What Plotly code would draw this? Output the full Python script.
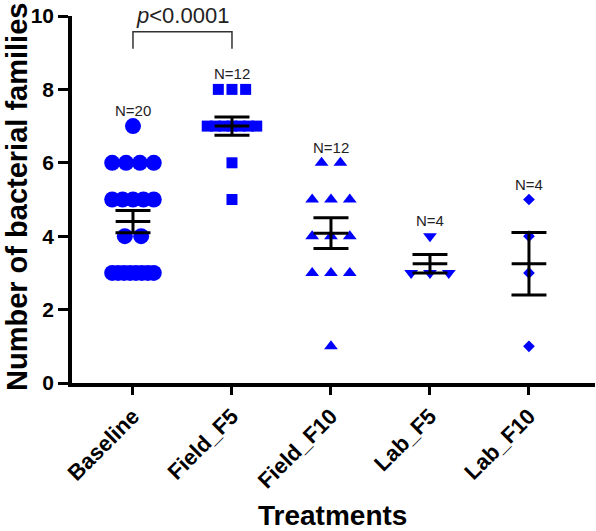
import numpy as np
import plotly.graph_objects as go

# ---------------- data ----------------
categories = ["Baseline", "Field_F5", "Field_F10", "Lab_F5", "Lab_F10"]
baseline = [7, 6, 6, 6, 6, 5, 5, 5, 5, 5, 4, 4, 3, 3, 3, 3, 3, 3, 3, 3]
field_f5 = [8, 8, 8, 7, 7, 7, 7, 7, 7, 7, 6, 5]
field_f10 = [6, 6, 5, 5, 5, 4, 4, 4, 3, 3, 3, 1]
lab_f5 = [4, 3, 3, 3]
lab_f10 = [5, 4, 3, 1]
p_text = "<i>p</i>&lt;0.0001"
y_ticks = [0, 2, 4, 6, 8, 10]

groups = [baseline, field_f5, field_f10, lab_f5, lab_f10]

# ---------------- styles ----------------
BLUE = "#0000FF"
FONT = "Liberation Sans, Arial, Helvetica, sans-serif"
styles = [
    dict(symbol="circle", size=16, spacing=0.165, spread=0.42),
    dict(symbol="square", size=11, spacing=0.138, spread=0.50),
    dict(symbol="triangle-up", size=12, spacing=0.19, spread=0.50),
    dict(symbol="triangle-down", size=12, spacing=0.19, spread=0.50),
    dict(symbol="diamond", size=9, spacing=0.19, spread=0.50),
]


def row_offsets(vals, spacing, spread):
    vals = np.asarray(vals, dtype=float)
    out = np.zeros(len(vals))
    for v in np.unique(vals):
        idx = np.where(vals == v)[0]
        k = len(idx)
        if k > 1:
            s = min(spacing, spread / (k - 1))
            out[idx] = (np.arange(k) - (k - 1) / 2) * s
    return out


fig = go.Figure()

means, sems = [], []
for i, (vals, st) in enumerate(zip(groups, styles)):
    arr = np.asarray(vals, dtype=float)
    xs = i + row_offsets(arr, st["spacing"], st["spread"])
    fig.add_trace(go.Scatter(
        x=xs, y=arr, mode="markers",
        marker=dict(symbol=st["symbol"], size=st["size"], color=BLUE,
                    line=dict(width=0)),
        showlegend=False, hoverinfo="y", cliponaxis=False))
    means.append(arr.mean())
    sems.append(arr.std(ddof=1) / np.sqrt(len(arr)))

# mean lines
half = 0.175
mx, my = [], []
for i, m in enumerate(means):
    mx += [i - half, i + half, None]
    my += [m, m, None]
fig.add_trace(go.Scatter(x=mx, y=my, mode="lines",
                         line=dict(color="black", width=3),
                         showlegend=False, hoverinfo="skip"))

# SEM error bars
fig.add_trace(go.Scatter(
    x=list(range(len(groups))), y=means, mode="markers",
    marker=dict(size=1, color="rgba(0,0,0,0)"),
    error_y=dict(type="data", array=sems, color="black", thickness=3, width=17.5),
    showlegend=False, hoverinfo="skip"))

# comparison bracket (Baseline vs Field_F5)
br_top, br_drop = 9.57, 0.46
fig.add_trace(go.Scatter(
    x=[0, 0, 1, 1], y=[br_top - br_drop, br_top, br_top, br_top - br_drop],
    mode="lines", line=dict(color="#333333", width=1.5),
    showlegend=False, hoverinfo="skip", cliponaxis=False))

annotations = [
    dict(x=0.5, y=1.0027, xref="x", yref="paper", text=p_text, showarrow=False,
         font=dict(family=FONT, size=22, color="#222222"), yanchor="middle"),
]
for i, vals in enumerate(groups):
    annotations.append(dict(
        x=i, y=max(vals) + 0.42, xref="x", yref="y", text=f"N={len(vals)}",
        showarrow=False, font=dict(family=FONT, size=15, color="#222222"),
        yanchor="middle"))

# axis titles
annotations.append(dict(
    x=-0.105, y=0.507, xref="paper", yref="paper",
    text="<b>Number of bacterial families</b>", textangle=-90, showarrow=False,
    font=dict(family=FONT, size=29, color="black"),
    xanchor="center", yanchor="middle"))
annotations.append(dict(
    x=0.499, y=-0.36, xref="paper", yref="paper",
    text="<b>Treatments</b>", showarrow=False,
    font=dict(family=FONT, size=28, color="black"),
    xanchor="center", yanchor="middle"))

fig.update_layout(
    width=596, height=531,
    margin=dict(l=72, r=1, t=16, b=148, autoexpand=False),
    plot_bgcolor="white", paper_bgcolor="white",
    font=dict(family=FONT, color="black"),
    annotations=annotations,
    xaxis=dict(
        range=[-0.616, 4.667], tickmode="array",
        tickvals=list(range(len(categories))), ticktext=categories,
        tickangle=-45, tickfont=dict(family=FONT, size=22, color="black", weight="bold"),
        showline=True, linecolor="black", linewidth=3.5,
        ticks="outside", ticklen=8, tickwidth=3, tickcolor="black",
        ticklabeloverflow="allow",
        showgrid=False, zeroline=False, fixedrange=True),
    yaxis=dict(
        range=[0, 10], tickmode="array", tickvals=y_ticks,
        ticktext=[str(t) for t in y_ticks],
        tickfont=dict(family=FONT, size=21, color="black", weight="bold"),
        showline=True, linecolor="black", linewidth=3.5,
        ticks="outside", ticklen=10, tickwidth=3, tickcolor="black",
        ticklabeloverflow="allow",
        showgrid=False, zeroline=False, fixedrange=True),
)

# remove the default 8px page margin so the figure fills the window exactly
fig.write_html("out.html", config={"displayModeBar": False},
               post_script="document.body.style.margin='0px';document.body.style.overflow='hidden';")
